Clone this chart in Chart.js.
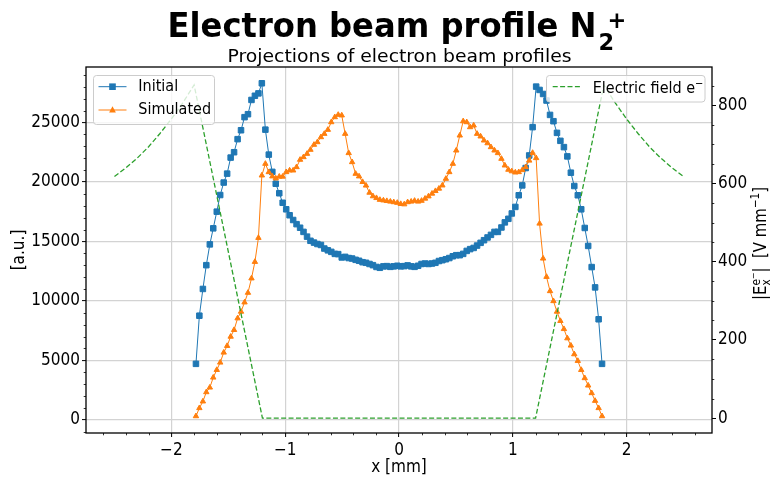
<!DOCTYPE html>
<html>
<head>
<meta charset="utf-8">
<script src="https://cdn.jsdelivr.net/npm/chart.js@4.4.1/dist/chart.umd.min.js"></script>
<style>
  html, body { margin: 0; padding: 0; background: #ffffff; }
  #wrap { width: 771px; height: 478px; }
</style>
</head>
<body>
<div id="wrap"><canvas id="c" width="771" height="478"></canvas></div>
<script>
// ---------------- data ----------------
const xPos = [
  -1.784, -1.754, -1.723, -1.693, -1.662, -1.632, -1.601, -1.571, -1.540, -1.510,
  -1.479, -1.449, -1.418, -1.388, -1.357, -1.327, -1.296, -1.266, -1.235, -1.205,
  -1.174, -1.144, -1.113, -1.083, -1.052, -1.022, -0.991, -0.961, -0.930, -0.900,
  -0.869, -0.839, -0.808, -0.778, -0.747, -0.717, -0.686, -0.656, -0.625, -0.595,
  -0.564, -0.534, -0.503, -0.473, -0.442, -0.412, -0.381, -0.351, -0.320, -0.290,
  -0.259, -0.229, -0.198, -0.168, -0.137, -0.107, -0.076, -0.046, -0.015, 0.015,
  0.046, 0.076, 0.107, 0.137, 0.168, 0.198, 0.229, 0.259, 0.290, 0.320,
  0.351, 0.381, 0.412, 0.442, 0.473, 0.503, 0.534, 0.564, 0.595, 0.625,
  0.656, 0.686, 0.717, 0.747, 0.778, 0.808, 0.839, 0.869, 0.900, 0.930,
  0.961, 0.991, 1.022, 1.052, 1.083, 1.113, 1.144, 1.174, 1.205, 1.235,
  1.266, 1.296, 1.327, 1.357, 1.388, 1.418, 1.449, 1.479, 1.510, 1.540,
  1.571, 1.601, 1.632, 1.662, 1.693, 1.723, 1.754, 1.784
];
const initial = [
  4700, 8750, 11000, 13000, 14750, 16100, 17500, 18900, 19950, 20700,
  22050, 22500, 23600, 24350, 25450, 25700, 26900, 27250, 27450, 28300,
  24400, 22300, 20850, 19850, 19050, 18250, 17700, 17200, 16800, 16450,
  16150, 15800, 15400, 15050, 14900, 14780, 14700, 14400, 14250, 14120,
  13950, 13930, 13650, 13700, 13600, 13560, 13450, 13370, 13250, 13200,
  13100, 13000, 12850, 12780, 12900, 12920, 12860, 12900, 12950, 12900,
  12920, 12980, 12900, 12860, 12950, 13100, 13140, 13100, 13140, 13200,
  13350, 13420, 13500, 13600, 13750, 13840, 13840, 13950, 14200, 14350,
  14450, 14650, 14880, 15100, 15330, 15550, 15800, 15800, 16170, 16600,
  16900, 17350, 17900, 18880, 19710, 21170, 22230, 24610, 28020, 27740,
  27400, 26850, 25640, 25110, 24130, 23460, 22930, 22150, 20780, 19660,
  18880, 17700, 16130, 14620, 12840, 11130, 8450, 4700
];
const simulated = [
  300, 980, 1540, 2320, 2710, 3550, 4190, 4810, 5650, 6210,
  6990, 7550, 8530, 9090, 9870, 10680, 11890, 13280, 15300, 20550,
  21530, 20830, 20470, 20300, 20450, 20450, 20830, 20970, 20970, 21250,
  21870, 22090, 22370, 22710, 23130, 23350, 23770, 24050, 24390, 25030,
  25450, 25650, 25600, 24050, 22430, 21670, 20690, 20470, 20000, 19700,
  19100, 18800, 18650, 18500, 18450, 18400, 18350, 18300, 18250, 18150,
  18120, 18300, 18350, 18420, 18350, 18420, 18600, 18790, 19020, 19240,
  19440, 19710, 20270, 20830, 21530, 22650, 23910, 25110, 25030, 24610,
  24750, 24050, 23830, 23490, 23260, 22930, 22650, 22430, 21950, 21390,
  21030, 20900, 20800, 20830, 21000, 21250, 21800, 22450, 22010, 16500,
  13560, 12020, 10820, 9980, 9090, 8310, 7630, 6850, 6240, 5510,
  4950, 4190, 3500, 2880, 2240, 1590, 980, 300
];
const fieldX = [-2.5, -2.4, -2.3, -2.2, -2.1, -2.0, -1.9, -1.8, -1.2, 1.2, 1.8, 1.9, 2.0, 2.1, 2.2, 2.3, 2.4, 2.5];
const fieldE = [618, 640, 665, 694, 728, 765, 806, 852, 0, 0, 852, 806, 765, 728, 694, 665, 640, 618];

const xTicks = [-2, -1, 0, 1, 2];
const yTicks = [0, 5000, 10000, 15000, 20000, 25000];
const y2Ticks = [0, 200, 400, 600, 800];

// ---------------- styling helpers ----------------
const FAMILY = "'DejaVu Sans Condensed', 'DejaVu Sans', sans-serif";
const fnt = (size, bold) => (bold ? 'bold ' : '') + size + 'px ' + FAMILY;
const minus = v => (v < 0 ? '\u2212' + Math.abs(v) : String(v));

// rich text: segments {t, size, bold, dy, keep (no advance), after (start after stacked group)}
function layoutSegs(ctx, segs, x0, draw, y0) {
  let x = x0, maxX = x0;
  for (const s of segs) {
    ctx.font = fnt(s.size, s.bold);
    const w = ctx.measureText(s.t).width;
    if (s.after) x = Math.max(x, maxX);
    if (draw) ctx.fillText(s.t, x, y0 + (s.dy || 0));
    if (s.keep) { maxX = Math.max(maxX, x + w); }
    else { x += w; maxX = Math.max(maxX, x); }
  }
  return Math.max(x, maxX) - x0;
}

function legendLine(ctx, x1, x2, y, color, dash, width) {
  ctx.save();
  ctx.strokeStyle = color; ctx.lineWidth = width; ctx.setLineDash(dash || []);
  ctx.beginPath(); ctx.moveTo(x1, y); ctx.lineTo(x2, y); ctx.stroke();
  ctx.restore();
}
function roundBox(ctx, x, y, w, h, r) {
  ctx.beginPath();
  ctx.moveTo(x + r, y); ctx.lineTo(x + w - r, y); ctx.quadraticCurveTo(x + w, y, x + w, y + r);
  ctx.lineTo(x + w, y + h - r); ctx.quadraticCurveTo(x + w, y + h, x + w - r, y + h);
  ctx.lineTo(x + r, y + h); ctx.quadraticCurveTo(x, y + h, x, y + h - r);
  ctx.lineTo(x, y + r); ctx.quadraticCurveTo(x, y, x + r, y); ctx.closePath();
}

const decor = {
  id: 'decor',
  afterDatasetsDraw(chart) {
    const ctx = chart.ctx, a = chart.chartArea;
    const sx = chart.scales.x, sy = chart.scales.y, sy2 = chart.scales.y1;
    ctx.save();
    // minor ticks
    ctx.strokeStyle = '#000'; ctx.lineWidth = 0.8;
    ctx.beginPath();
    for (let v = -2.6; v <= 2.61; v += 0.2) {
      if (Math.abs(v - Math.round(v)) < 1e-6) continue;
      const p = Math.round(sx.getPixelForValue(v)) + 0.5;
      ctx.moveTo(p, a.bottom); ctx.lineTo(p, a.bottom + 2.3);
    }
    for (let v = -1000; v <= 29000; v += 1000) {
      if (v % 5000 === 0) continue;
      const p = Math.round(sy.getPixelForValue(v)) + 0.5;
      ctx.moveTo(a.left, p); ctx.lineTo(a.left - 2.3, p);
    }
    for (let v = 0; v <= 850; v += 50) {
      if (v % 200 === 0) continue;
      const p = Math.round(sy2.getPixelForValue(v)) + 0.5;
      ctx.moveTo(a.right, p); ctx.lineTo(a.right + 2.3, p);
    }
    ctx.stroke();
    // frame
    ctx.lineWidth = 1.3; ctx.strokeStyle = '#000';
    ctx.strokeRect(a.left, a.top, a.right - a.left, a.bottom - a.top);
    ctx.restore();
  },
  afterDraw(chart) {
    const ctx = chart.ctx;
    ctx.save();
    ctx.fillStyle = '#000';
    ctx.textBaseline = 'alphabetic';
    ctx.textAlign = 'left';

    // ---- main title with N_2^+ ----
    const mainTxt = 'Electron beam profile N';
    ctx.font = fnt(33, true);
    const mw = ctx.measureText(mainTxt).width;
    const k = 429 / mw;
    ctx.save();
    ctx.translate(167.5, 36.5); ctx.scale(k, 1);
    ctx.fillText(mainTxt, 0, 0);
    ctx.font = fnt(23, true);
    ctx.fillText('2', mw + 2 / k, 13.5);
    ctx.fillText('+', mw + 11 / k, -9);
    ctx.restore();

    // ---- subtitle (axes title) ----
    const sub = 'Projections of electron beam profiles';
    ctx.font = fnt(17, false);
    const sw = ctx.measureText(sub).width;
    const ks = 344 / sw;
    ctx.save();
    ctx.translate(399.5 - 172, 61.5); ctx.scale(ks, 1);
    ctx.fillText(sub, 0, 0);
    ctx.restore();

    // ---- right axis label, reading bottom to top ----
    const rSegs = [
      { t: '|E', size: 17 },
      { t: 'x', size: 12, dy: 3.5, keep: true },
      { t: 'e', size: 12, dy: -6.5 },
      { t: '\u2212', size: 9, dy: -10.5 },
      { t: '|', size: 17, after: true },
      { t: '  [V mm', size: 17 },
      { t: '\u22121', size: 12, dy: -7 },
      { t: ']', size: 17 }
    ];
    const rw = layoutSegs(ctx, rSegs, 0, false, 0);
    const kr = 113 / rw;
    ctx.save();
    ctx.translate(766, 243.5); ctx.rotate(-Math.PI / 2); ctx.scale(kr, 1);
    layoutSegs(ctx, rSegs, -rw / 2, true, 0);
    ctx.restore();

    // ---- legend 1 ----
    ctx.save();
    roundBox(ctx, 93.5, 75.5, 121, 49, 3);
    ctx.fillStyle = 'rgba(255,255,255,0.8)'; ctx.fill();
    ctx.strokeStyle = '#cccccc'; ctx.lineWidth = 1; ctx.stroke();
    ctx.restore();
    legendLine(ctx, 98.5, 126.5, 86.7, '#1f77b4', null, 1);
    ctx.fillStyle = '#1f77b4';
    ctx.fillRect(112.5 - 3.3, 86.7 - 3.3, 6.6, 6.6);
    legendLine(ctx, 98.5, 126.5, 110, '#ff7f0e', null, 1);
    ctx.fillStyle = '#ff7f0e';
    ctx.beginPath();
    ctx.moveTo(112.5, 110 - 3.8); ctx.lineTo(112.5 + 3.4, 110 + 2.4); ctx.lineTo(112.5 - 3.4, 110 + 2.4); ctx.closePath(); ctx.fill();
    ctx.fillStyle = '#000';
    ctx.textBaseline = 'middle';
    ctx.font = fnt(16, false);
    ctx.fillText('Initial', 138.3, 87);
    ctx.fillText('Simulated', 138.3, 110.3);

    // ---- legend 2 ----
    ctx.save();
    roundBox(ctx, 546.5, 75.5, 158.5, 26.5, 3);
    ctx.fillStyle = 'rgba(255,255,255,0.8)'; ctx.fill();
    ctx.strokeStyle = '#cccccc'; ctx.lineWidth = 1; ctx.stroke();
    ctx.restore();
    legendLine(ctx, 552.7, 580.7, 86.7, '#2ca02c', [5, 2.4], 1.3);
    ctx.fillStyle = '#000';
    ctx.textBaseline = 'alphabetic';
    layoutSegs(ctx, [{ t: 'Electric field e', size: 16 }, { t: '\u2212', size: 11, dy: -6 }], 592.7, true, 92.5);
    ctx.restore();
  }
};

const tickFont = { family: FAMILY, size: 17 };

new Chart(document.getElementById('c').getContext('2d'), {
  type: 'line',
  data: {
    datasets: [
      {
        label: 'Initial',
        data: xPos.map((x, i) => ({ x: x, y: initial[i] })),
        borderColor: '#1f77b4', backgroundColor: '#1f77b4',
        borderWidth: 1, pointStyle: 'rect', pointRadius: 3.9, pointBorderWidth: 1,
        pointBackgroundColor: '#1f77b4', pointBorderColor: '#1f77b4',
        yAxisID: 'y', order: 2, tension: 0
      },
      {
        label: 'Simulated',
        data: xPos.map((x, i) => ({ x: x, y: simulated[i] })),
        borderColor: '#ff7f0e', backgroundColor: '#ff7f0e',
        borderWidth: 1, pointStyle: 'triangle', pointRadius: 3.1, pointBorderWidth: 1,
        pointBackgroundColor: '#ff7f0e', pointBorderColor: '#ff7f0e',
        yAxisID: 'y', order: 1, tension: 0
      },
      {
        label: 'Electric field e\u2212',
        data: fieldX.map((x, i) => ({ x: x, y: fieldE[i] })),
        borderColor: '#2ca02c', backgroundColor: '#2ca02c',
        borderWidth: 1.3, borderDash: [5, 2.4], pointRadius: 0,
        yAxisID: 'y1', order: 0, tension: 0
      }
    ]
  },
  options: {
    responsive: false, animation: false, devicePixelRatio: 1,
    layout: { padding: { top: 67, left: 0, right: 0, bottom: 0 } },
    plugins: { legend: { display: false }, tooltip: { enabled: false }, title: { display: false } },
    scales: {
      x: {
        type: 'linear', position: 'bottom', min: -2.75, max: 2.75,
        afterBuildTicks: s => { s.ticks = xTicks.map(v => ({ value: v })); },
        afterFit: s => { s.height = 45; },
        ticks: { font: tickFont, color: '#000', padding: 3, maxRotation: 0, autoSkip: false, callback: v => minus(v) },
        grid: { color: '#d3d3d3', lineWidth: 1.2, tickColor: '#000', tickLength: 4, tickWidth: 1 },
        border: { display: false },
        title: { display: true, text: 'x [mm]', font: tickFont, color: '#000', padding: { top: 1, bottom: 0 } }
      },
      y: {
        type: 'linear', position: 'left', min: -1117, max: 29670,
        afterBuildTicks: s => { s.ticks = yTicks.map(v => ({ value: v })); },
        afterFit: s => { s.width = 86; },
        ticks: { font: tickFont, color: '#000', padding: 2, callback: v => minus(v) },
        grid: { color: '#d3d3d3', lineWidth: 1.2, tickColor: '#000', tickLength: 4, tickWidth: 1 },
        border: { display: false },
        title: { display: true, text: '[a.u.]', font: tickFont, color: '#000', padding: { top: 9, bottom: 0 } }
      },
      y1: {
        type: 'linear', position: 'right', min: -38, max: 898,
        afterBuildTicks: s => { s.ticks = y2Ticks.map(v => ({ value: v })); },
        afterFit: s => { s.width = 59; },
        ticks: { font: tickFont, color: '#000', padding: 2, callback: v => minus(v) },
        grid: { drawOnChartArea: false, tickColor: '#000', tickLength: 4, tickWidth: 1 },
        border: { display: false }
      }
    }
  },
  plugins: [decor]
});
</script>
</body>
</html>
